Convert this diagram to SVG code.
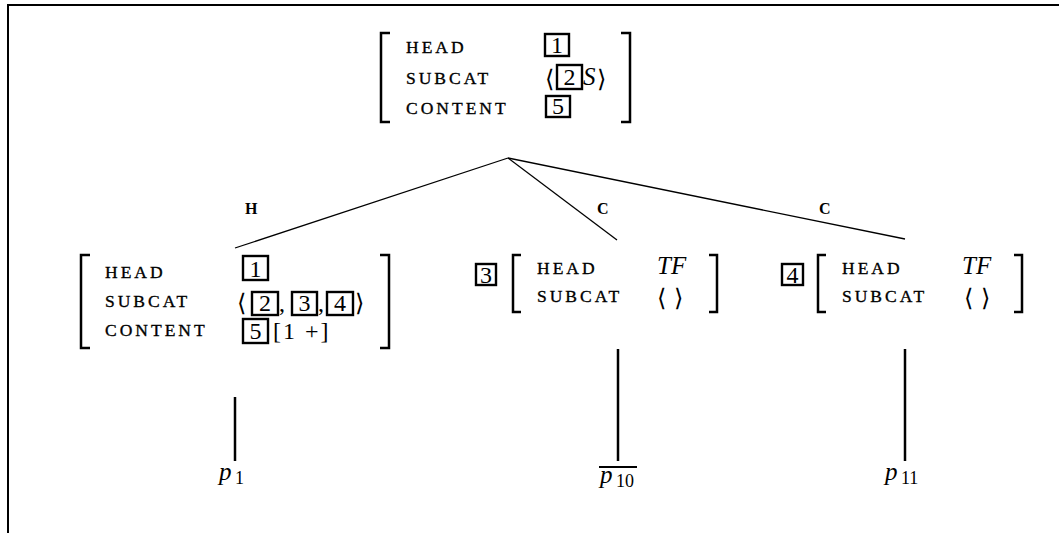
<svg xmlns="http://www.w3.org/2000/svg" width="1059" height="533" viewBox="0 0 1059 533">
<style>
.f{font-family:"Liberation Serif","DejaVu Serif",serif;font-size:17.5px;letter-spacing:3px;fill:#000;stroke:#000;stroke-width:0.35}
.v{font-family:"Liberation Serif","DejaVu Serif",serif;font-size:24px;fill:#000}
.i{font-family:"Liberation Serif","DejaVu Serif",serif;font-size:25px;font-style:italic;fill:#000}
.ab{font-family:"DejaVu Serif","Liberation Serif",serif;font-size:24px;fill:#000}
.sub{font-family:"Liberation Serif","DejaVu Serif",serif;font-size:18px;fill:#000}
.lab{font-family:"Liberation Serif","DejaVu Serif",serif;font-size:16px;font-weight:bold;fill:#000}
.br{fill:none;stroke:#000;stroke-width:2.5}
.bx{fill:none;stroke:#000;stroke-width:2.4}
.ed{fill:none;stroke:#000;stroke-width:1.3}
.lf{fill:none;stroke:#000;stroke-width:2.5}
</style>
<rect width="1059" height="533" fill="#fff"/>
<g id="frame">
<path d="M8,533 V5 H1059" fill="none" stroke="#000" stroke-width="2"/>
</g>
<g id="connectors">
<line class="ed" x1="508" y1="158" x2="235" y2="248"/>
<line class="ed" x1="508" y1="158" x2="617" y2="240"/>
<line class="ed" x1="508" y1="158" x2="905" y2="239"/>
<text class="lab" x="245" y="214">H</text>
<text class="lab" x="597" y="214">C</text>
<text class="lab" x="819" y="214">C</text>
<line class="lf" x1="235" y1="397" x2="235" y2="461"/>
<line class="lf" x1="618" y1="349" x2="618" y2="461"/>
<line class="lf" x1="905" y1="349" x2="905" y2="461"/>
</g>
<g id="root">
<path class="br" d="M390,33 H381 V122 H390"/>
<path class="br" d="M621,33 H630 V122 H621"/>
<text class="f" x="406" y="53">HEAD</text>
<text class="f" x="406" y="84">SUBCAT</text>
<text class="f" x="406" y="114">CONTENT</text>
<rect class="bx" x="545" y="34" width="24" height="22"/>
<text class="v" x="557" y="53" text-anchor="middle">1</text>
<text class="ab" x="545" y="87">⟨</text>
<rect class="bx" x="557" y="65" width="25" height="24"/>
<text class="v" x="569.5" y="85" text-anchor="middle">2</text>
<text class="i" x="583" y="85">S</text>
<text class="ab" x="597" y="87">⟩</text>
<rect class="bx" x="546" y="96" width="24" height="21"/>
<text class="v" x="558" y="114" text-anchor="middle">5</text>
</g>
<g id="head-dtr">
<path class="br" d="M90,255 H81 V348 H90"/>
<path class="br" d="M380,255 H389 V348 H380"/>
<text class="f" x="105" y="278">HEAD</text>
<text class="f" x="105" y="307">SUBCAT</text>
<text class="f" x="105" y="336">CONTENT</text>
<rect class="bx" x="243" y="256" width="25" height="24"/>
<text class="v" x="255.5" y="277" text-anchor="middle">1</text>
<text class="ab" x="237" y="311">⟨</text>
<rect class="bx" x="252" y="292" width="26" height="23"/>
<text class="v" x="265" y="311" text-anchor="middle">2</text>
<text class="v" x="279" y="311">,</text>
<rect class="bx" x="292" y="292" width="25" height="23"/>
<text class="v" x="304.5" y="311" text-anchor="middle">3</text>
<text class="v" x="318" y="311">,</text>
<rect class="bx" x="327" y="292" width="26" height="23"/>
<text class="v" x="340" y="311" text-anchor="middle">4</text>
<text class="ab" x="355" y="311">⟩</text>
<rect class="bx" x="243" y="319" width="25" height="24"/>
<text class="v" x="255.5" y="339" text-anchor="middle">5</text>
<text class="v" x="273" y="339" letter-spacing="2">[1 +]</text>
</g>
<g id="comp3">
<rect class="bx" x="476" y="264" width="20" height="21"/>
<text class="v" x="486" y="283" text-anchor="middle">3</text>
<path class="br" d="M521,255 H513 V312 H521"/>
<path class="br" d="M709,255 H717 V312 H709"/>
<text class="f" x="537" y="274">HEAD</text>
<text class="f" x="537" y="302">SUBCAT</text>
<text class="i" x="657" y="274">TF</text>
<text class="ab" x="657" y="306">⟨ ⟩</text>
</g>
<g id="comp4">
<rect class="bx" x="782" y="264" width="21" height="21"/>
<text class="v" x="792.5" y="283" text-anchor="middle">4</text>
<path class="br" d="M826,255 H818 V312 H826"/>
<path class="br" d="M1014,255 H1022 V312 H1014"/>
<text class="f" x="842" y="274">HEAD</text>
<text class="f" x="842" y="302">SUBCAT</text>
<text class="i" x="962" y="274">TF</text>
<text class="ab" x="964" y="306">⟨ ⟩</text>
</g>
<g id="p1">
<text class="i" x="219" y="480" font-size="27">p</text>
<text class="sub" x="235" y="484">1</text>
</g>
<g id="p10">
<line x1="599" y1="467" x2="637" y2="467" stroke="#000" stroke-width="2"/>
<text class="i" x="600" y="483" font-size="27">p</text>
<text class="sub" x="616" y="487">10</text>
</g>
<g id="p11">
<text class="i" x="885" y="480" font-size="27">p</text>
<text class="sub" x="901" y="484">11</text>
</g>
</svg>
